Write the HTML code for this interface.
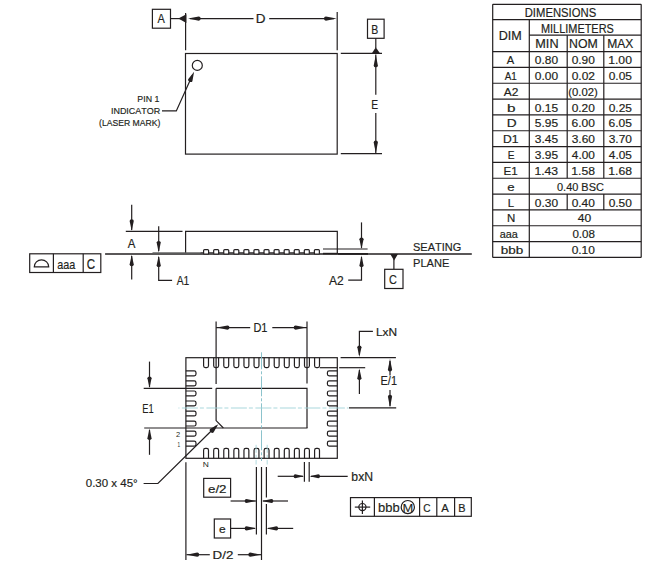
<!DOCTYPE html>
<html><head><meta charset="utf-8"><style>
html,body{margin:0;padding:0;background:#fff;width:652px;height:567px;overflow:hidden}
svg{display:block;font-family:"Liberation Sans",sans-serif;font-kerning:none}
</style></head><body>
<svg width="652" height="567" viewBox="0 0 652 567">
<rect x="185.50" y="53.50" width="151.70" height="100.60" fill="none" stroke="#231f20" stroke-width="1.2"/>
<rect x="152.40" y="9.30" width="18.10" height="18.90" fill="none" stroke="#231f20" stroke-width="1.2"/>
<text x="157.43" y="23.10" font-size="12.24" textLength="7.34" lengthAdjust="spacingAndGlyphs" fill="#231f20" stroke="#231f20" stroke-width="0.18">A</text>
<line x1="170.50" y1="18.60" x2="181.00" y2="18.60" stroke="#231f20" stroke-width="1.2" />
<polygon points="178.30,18.60 186.40,14.30 186.40,22.90" fill="#231f20"/>
<line x1="185.60" y1="12.90" x2="185.60" y2="50.30" stroke="#231f20" stroke-width="1.2" />
<line x1="337.20" y1="12.00" x2="337.20" y2="50.30" stroke="#231f20" stroke-width="1.2" />
<line x1="190.00" y1="18.60" x2="253.50" y2="18.60" stroke="#231f20" stroke-width="1.2" />
<line x1="269.20" y1="18.60" x2="334.00" y2="18.60" stroke="#231f20" stroke-width="1.2" />
<path d="M188.00,18.60 L198.75,16.52 Q200.65,16.52 200.65,18.60 Q200.65,20.68 198.75,20.68 Z" fill="#231f20"/>
<path d="M336.60,18.60 L325.85,20.68 Q323.95,20.68 323.95,18.60 Q323.95,16.52 325.85,16.52 Z" fill="#231f20"/>
<text x="255.74" y="23.00" font-size="12.40" textLength="9.75" lengthAdjust="spacingAndGlyphs" fill="#231f20" stroke="#231f20" stroke-width="0.18">D</text>
<line x1="340.80" y1="53.30" x2="382.00" y2="53.30" stroke="#231f20" stroke-width="1.2" />
<line x1="340.80" y1="153.60" x2="382.00" y2="153.60" stroke="#231f20" stroke-width="1.2" />
<rect x="367.50" y="19.20" width="16.60" height="19.10" fill="none" stroke="#231f20" stroke-width="1.2"/>
<text x="371.19" y="34.00" font-size="12.55" textLength="7.02" lengthAdjust="spacingAndGlyphs" fill="#231f20" stroke="#231f20" stroke-width="0.18">B</text>
<line x1="375.80" y1="38.30" x2="375.80" y2="48.00" stroke="#231f20" stroke-width="1.2" />
<polygon points="375.80,47.30 371.90,53.30 379.90,53.30" fill="#231f20"/>
<line x1="375.80" y1="54.50" x2="375.80" y2="94.80" stroke="#231f20" stroke-width="1.2" />
<line x1="375.80" y1="113.10" x2="375.80" y2="153.50" stroke="#231f20" stroke-width="1.2" />
<path d="M375.80,54.70 L377.88,65.45 Q377.88,67.35 375.80,67.35 Q373.72,67.35 373.72,65.45 Z" fill="#231f20"/>
<path d="M375.80,153.20 L373.72,142.45 Q373.72,140.55 375.80,140.55 Q377.88,140.55 377.88,142.45 Z" fill="#231f20"/>
<text x="371.20" y="109.10" font-size="12.09" textLength="6.89" lengthAdjust="spacingAndGlyphs" fill="#231f20" stroke="#231f20" stroke-width="0.18">E</text>
<circle cx="197.3" cy="65.4" r="5.0" fill="none" stroke="#231f20" stroke-width="1.2"/>
<polyline points="192.50,75.00 176.30,110.90 162.00,110.90" fill="none" stroke="#231f20" stroke-width="1.2"/>
<path d="M194.10,71.80 L192.38,81.22 Q191.70,82.71 189.57,81.74 Q187.44,80.77 188.12,79.28 Z" fill="#231f20"/>
<text x="137.33" y="102.10" font-size="9.70" textLength="22.05" lengthAdjust="spacingAndGlyphs" fill="#231f20" stroke="#231f20" stroke-width="0.18">PIN 1</text>
<text x="110.92" y="114.30" font-size="9.70" textLength="49.34" lengthAdjust="spacingAndGlyphs" fill="#231f20" stroke="#231f20" stroke-width="0.18">INDICATOR</text>
<text x="99.12" y="126.40" font-size="9.70" textLength="61.27" lengthAdjust="spacingAndGlyphs" fill="#231f20" stroke="#231f20" stroke-width="0.18">(LASER MARK)</text>
<line x1="492.70" y1="4.30" x2="641.20" y2="4.30" stroke="#231f20" stroke-width="1.2" />
<line x1="492.70" y1="257.40" x2="641.20" y2="257.40" stroke="#231f20" stroke-width="1.3" />
<line x1="492.70" y1="4.30" x2="492.70" y2="257.40" stroke="#231f20" stroke-width="1.2" />
<line x1="641.20" y1="4.30" x2="641.20" y2="257.40" stroke="#231f20" stroke-width="1.2" />
<line x1="492.70" y1="19.60" x2="641.20" y2="19.60" stroke="#231f20" stroke-width="1.2" />
<line x1="529.30" y1="35.20" x2="641.20" y2="35.20" stroke="#231f20" stroke-width="1.2" />
<line x1="492.70" y1="51.60" x2="641.20" y2="51.60" stroke="#231f20" stroke-width="1.2" />
<line x1="492.70" y1="67.43" x2="641.20" y2="67.43" stroke="#231f20" stroke-width="1.2" />
<line x1="492.70" y1="83.26" x2="641.20" y2="83.26" stroke="#231f20" stroke-width="1.2" />
<line x1="492.70" y1="99.09" x2="641.20" y2="99.09" stroke="#231f20" stroke-width="1.2" />
<line x1="492.70" y1="114.92" x2="641.20" y2="114.92" stroke="#231f20" stroke-width="1.2" />
<line x1="492.70" y1="130.75" x2="641.20" y2="130.75" stroke="#231f20" stroke-width="1.2" />
<line x1="492.70" y1="146.58" x2="641.20" y2="146.58" stroke="#231f20" stroke-width="1.2" />
<line x1="492.70" y1="162.42" x2="641.20" y2="162.42" stroke="#231f20" stroke-width="1.2" />
<line x1="492.70" y1="178.25" x2="641.20" y2="178.25" stroke="#231f20" stroke-width="1.2" />
<line x1="492.70" y1="194.08" x2="641.20" y2="194.08" stroke="#231f20" stroke-width="1.2" />
<line x1="492.70" y1="209.91" x2="641.20" y2="209.91" stroke="#231f20" stroke-width="1.2" />
<line x1="492.70" y1="225.74" x2="641.20" y2="225.74" stroke="#231f20" stroke-width="1.2" />
<line x1="492.70" y1="241.57" x2="641.20" y2="241.57" stroke="#231f20" stroke-width="1.2" />
<line x1="529.30" y1="19.60" x2="529.30" y2="257.40" stroke="#231f20" stroke-width="1.2" />
<line x1="567.20" y1="35.20" x2="567.20" y2="51.60" stroke="#231f20" stroke-width="1.2" />
<line x1="603.80" y1="35.20" x2="603.80" y2="51.60" stroke="#231f20" stroke-width="1.2" />
<line x1="567.20" y1="51.60" x2="567.20" y2="67.43" stroke="#231f20" stroke-width="1.2" />
<line x1="603.80" y1="51.60" x2="603.80" y2="67.43" stroke="#231f20" stroke-width="1.2" />
<line x1="567.20" y1="67.43" x2="567.20" y2="83.26" stroke="#231f20" stroke-width="1.2" />
<line x1="603.80" y1="67.43" x2="603.80" y2="83.26" stroke="#231f20" stroke-width="1.2" />
<line x1="567.20" y1="83.26" x2="567.20" y2="99.09" stroke="#231f20" stroke-width="1.2" />
<line x1="603.80" y1="83.26" x2="603.80" y2="99.09" stroke="#231f20" stroke-width="1.2" />
<line x1="567.20" y1="99.09" x2="567.20" y2="114.92" stroke="#231f20" stroke-width="1.2" />
<line x1="603.80" y1="99.09" x2="603.80" y2="114.92" stroke="#231f20" stroke-width="1.2" />
<line x1="567.20" y1="114.92" x2="567.20" y2="130.75" stroke="#231f20" stroke-width="1.2" />
<line x1="603.80" y1="114.92" x2="603.80" y2="130.75" stroke="#231f20" stroke-width="1.2" />
<line x1="567.20" y1="130.75" x2="567.20" y2="146.58" stroke="#231f20" stroke-width="1.2" />
<line x1="603.80" y1="130.75" x2="603.80" y2="146.58" stroke="#231f20" stroke-width="1.2" />
<line x1="567.20" y1="146.58" x2="567.20" y2="162.42" stroke="#231f20" stroke-width="1.2" />
<line x1="603.80" y1="146.58" x2="603.80" y2="162.42" stroke="#231f20" stroke-width="1.2" />
<line x1="567.20" y1="162.42" x2="567.20" y2="178.25" stroke="#231f20" stroke-width="1.2" />
<line x1="603.80" y1="162.42" x2="603.80" y2="178.25" stroke="#231f20" stroke-width="1.2" />
<line x1="567.20" y1="194.08" x2="567.20" y2="209.91" stroke="#231f20" stroke-width="1.2" />
<line x1="603.80" y1="194.08" x2="603.80" y2="209.91" stroke="#231f20" stroke-width="1.2" />
<text x="524.72" y="16.90" font-size="12.06" textLength="71.44" lengthAdjust="spacingAndGlyphs" fill="#231f20" stroke="#231f20" stroke-width="0.18">DIMENSIONS</text>
<text x="540.95" y="32.50" font-size="12.06" textLength="72.90" lengthAdjust="spacingAndGlyphs" fill="#231f20" stroke="#231f20" stroke-width="0.18">MILLIMETERS</text>
<text x="498.72" y="40.10" font-size="12.06" textLength="23.06" lengthAdjust="spacingAndGlyphs" fill="#231f20" stroke="#231f20" stroke-width="0.18">DIM</text>
<text x="535.31" y="47.90" font-size="12.06" textLength="23.28" lengthAdjust="spacingAndGlyphs" fill="#231f20" stroke="#231f20" stroke-width="0.18">MIN</text>
<text x="569.14" y="47.90" font-size="12.06" textLength="28.72" lengthAdjust="spacingAndGlyphs" fill="#231f20" stroke="#231f20" stroke-width="0.18">NOM</text>
<text x="607.16" y="47.90" font-size="12.06" textLength="26.14" lengthAdjust="spacingAndGlyphs" fill="#231f20" stroke="#231f20" stroke-width="0.18">MAX</text>
<text x="506.73" y="64.03" font-size="10.73" textLength="7.44" lengthAdjust="spacingAndGlyphs" fill="#231f20" stroke="#231f20" stroke-width="0.18">A</text>
<text x="534.88" y="64.03" font-size="10.73" textLength="23.23" lengthAdjust="spacingAndGlyphs" fill="#231f20" stroke="#231f20" stroke-width="0.18">0.80</text>
<text x="571.68" y="64.03" font-size="10.73" textLength="23.23" lengthAdjust="spacingAndGlyphs" fill="#231f20" stroke="#231f20" stroke-width="0.18">0.90</text>
<text x="608.22" y="64.03" font-size="10.73" textLength="23.70" lengthAdjust="spacingAndGlyphs" fill="#231f20" stroke="#231f20" stroke-width="0.18">1.00</text>
<text x="504.63" y="79.86" font-size="10.73" textLength="12.10" lengthAdjust="spacingAndGlyphs" fill="#231f20" stroke="#231f20" stroke-width="0.18">A1</text>
<text x="534.88" y="79.86" font-size="10.73" textLength="23.23" lengthAdjust="spacingAndGlyphs" fill="#231f20" stroke="#231f20" stroke-width="0.18">0.00</text>
<text x="571.68" y="79.86" font-size="10.73" textLength="23.37" lengthAdjust="spacingAndGlyphs" fill="#231f20" stroke="#231f20" stroke-width="0.18">0.02</text>
<text x="608.68" y="79.86" font-size="10.73" textLength="23.27" lengthAdjust="spacingAndGlyphs" fill="#231f20" stroke="#231f20" stroke-width="0.18">0.05</text>
<text x="503.83" y="95.69" font-size="10.73" textLength="14.62" lengthAdjust="spacingAndGlyphs" fill="#231f20" stroke="#231f20" stroke-width="0.18">A2</text>
<text x="568.25" y="95.69" font-size="10.73" textLength="29.50" lengthAdjust="spacingAndGlyphs" fill="#231f20" stroke="#231f20" stroke-width="0.18">(0.02)</text>
<text x="506.96" y="111.52" font-size="10.73" textLength="8.53" lengthAdjust="spacingAndGlyphs" fill="#231f20" stroke="#231f20" stroke-width="0.18">b</text>
<text x="534.88" y="111.52" font-size="10.73" textLength="23.27" lengthAdjust="spacingAndGlyphs" fill="#231f20" stroke="#231f20" stroke-width="0.18">0.15</text>
<text x="571.68" y="111.52" font-size="10.73" textLength="23.23" lengthAdjust="spacingAndGlyphs" fill="#231f20" stroke="#231f20" stroke-width="0.18">0.20</text>
<text x="608.68" y="111.52" font-size="10.73" textLength="23.27" lengthAdjust="spacingAndGlyphs" fill="#231f20" stroke="#231f20" stroke-width="0.18">0.25</text>
<text x="506.83" y="127.35" font-size="10.73" textLength="9.88" lengthAdjust="spacingAndGlyphs" fill="#231f20" stroke="#231f20" stroke-width="0.18">D</text>
<text x="534.87" y="127.35" font-size="10.73" textLength="23.28" lengthAdjust="spacingAndGlyphs" fill="#231f20" stroke="#231f20" stroke-width="0.18">5.95</text>
<text x="571.54" y="127.35" font-size="10.73" textLength="23.38" lengthAdjust="spacingAndGlyphs" fill="#231f20" stroke="#231f20" stroke-width="0.18">6.00</text>
<text x="608.54" y="127.35" font-size="10.73" textLength="23.42" lengthAdjust="spacingAndGlyphs" fill="#231f20" stroke="#231f20" stroke-width="0.18">6.05</text>
<text x="502.96" y="143.18" font-size="10.73" textLength="15.49" lengthAdjust="spacingAndGlyphs" fill="#231f20" stroke="#231f20" stroke-width="0.18">D1</text>
<text x="534.89" y="143.18" font-size="10.73" textLength="23.26" lengthAdjust="spacingAndGlyphs" fill="#231f20" stroke="#231f20" stroke-width="0.18">3.45</text>
<text x="571.70" y="143.18" font-size="10.73" textLength="23.22" lengthAdjust="spacingAndGlyphs" fill="#231f20" stroke="#231f20" stroke-width="0.18">3.60</text>
<text x="608.70" y="143.18" font-size="10.73" textLength="23.22" lengthAdjust="spacingAndGlyphs" fill="#231f20" stroke="#231f20" stroke-width="0.18">3.70</text>
<text x="507.82" y="159.02" font-size="10.73" textLength="6.77" lengthAdjust="spacingAndGlyphs" fill="#231f20" stroke="#231f20" stroke-width="0.18">E</text>
<text x="534.89" y="159.02" font-size="10.73" textLength="23.26" lengthAdjust="spacingAndGlyphs" fill="#231f20" stroke="#231f20" stroke-width="0.18">3.95</text>
<text x="571.88" y="159.02" font-size="10.73" textLength="23.03" lengthAdjust="spacingAndGlyphs" fill="#231f20" stroke="#231f20" stroke-width="0.18">4.00</text>
<text x="608.88" y="159.02" font-size="10.73" textLength="23.07" lengthAdjust="spacingAndGlyphs" fill="#231f20" stroke="#231f20" stroke-width="0.18">4.05</text>
<text x="503.50" y="174.85" font-size="10.73" textLength="14.22" lengthAdjust="spacingAndGlyphs" fill="#231f20" stroke="#231f20" stroke-width="0.18">E1</text>
<text x="534.42" y="174.85" font-size="10.73" textLength="23.77" lengthAdjust="spacingAndGlyphs" fill="#231f20" stroke="#231f20" stroke-width="0.18">1.43</text>
<text x="571.22" y="174.85" font-size="10.73" textLength="23.76" lengthAdjust="spacingAndGlyphs" fill="#231f20" stroke="#231f20" stroke-width="0.18">1.58</text>
<text x="608.22" y="174.85" font-size="10.73" textLength="23.76" lengthAdjust="spacingAndGlyphs" fill="#231f20" stroke="#231f20" stroke-width="0.18">1.68</text>
<text x="507.39" y="190.68" font-size="10.73" textLength="7.35" lengthAdjust="spacingAndGlyphs" fill="#231f20" stroke="#231f20" stroke-width="0.18">e</text>
<text x="557.02" y="190.68" font-size="10.73" textLength="46.84" lengthAdjust="spacingAndGlyphs" fill="#231f20" stroke="#231f20" stroke-width="0.18">0.40 BSC</text>
<text x="507.72" y="206.51" font-size="10.73" textLength="6.31" lengthAdjust="spacingAndGlyphs" fill="#231f20" stroke="#231f20" stroke-width="0.18">L</text>
<text x="534.88" y="206.51" font-size="10.73" textLength="23.23" lengthAdjust="spacingAndGlyphs" fill="#231f20" stroke="#231f20" stroke-width="0.18">0.30</text>
<text x="571.68" y="206.51" font-size="10.73" textLength="23.23" lengthAdjust="spacingAndGlyphs" fill="#231f20" stroke="#231f20" stroke-width="0.18">0.40</text>
<text x="608.68" y="206.51" font-size="10.73" textLength="23.23" lengthAdjust="spacingAndGlyphs" fill="#231f20" stroke="#231f20" stroke-width="0.18">0.50</text>
<text x="507.01" y="222.34" font-size="10.73" textLength="8.27" lengthAdjust="spacingAndGlyphs" fill="#231f20" stroke="#231f20" stroke-width="0.18">N</text>
<text x="577.87" y="222.34" font-size="10.73" textLength="13.45" lengthAdjust="spacingAndGlyphs" fill="#231f20" stroke="#231f20" stroke-width="0.18">40</text>
<text x="499.69" y="238.17" font-size="10.73" textLength="18.16" lengthAdjust="spacingAndGlyphs" fill="#231f20" stroke="#231f20" stroke-width="0.18">aaa</text>
<text x="572.40" y="238.17" font-size="10.73" textLength="22.56" lengthAdjust="spacingAndGlyphs" fill="#231f20" stroke="#231f20" stroke-width="0.18">0.08</text>
<text x="500.68" y="254.00" font-size="10.73" textLength="22.54" lengthAdjust="spacingAndGlyphs" fill="#231f20" stroke="#231f20" stroke-width="0.18">bbb</text>
<text x="571.68" y="254.00" font-size="10.73" textLength="23.23" lengthAdjust="spacingAndGlyphs" fill="#231f20" stroke="#231f20" stroke-width="0.18">0.10</text>
<line x1="131.70" y1="204.80" x2="131.70" y2="230.00" stroke="#231f20" stroke-width="1.2" />
<path d="M131.70,230.80 L129.62,221.03 Q129.62,219.30 131.70,219.30 Q133.78,219.30 133.78,221.03 Z" fill="#231f20"/>
<line x1="125.80" y1="231.40" x2="182.50" y2="231.40" stroke="#231f20" stroke-width="1.2" />
<text x="127.83" y="247.50" font-size="11.94" textLength="7.64" lengthAdjust="spacingAndGlyphs" fill="#231f20" stroke="#231f20" stroke-width="0.18">A</text>
<line x1="131.70" y1="256.00" x2="131.70" y2="279.40" stroke="#231f20" stroke-width="1.2" />
<path d="M131.70,254.80 L133.78,264.57 Q133.78,266.30 131.70,266.30 Q129.62,266.30 129.62,264.57 Z" fill="#231f20"/>
<line x1="105.10" y1="254.00" x2="471.80" y2="254.00" stroke="#231f20" stroke-width="1.4" />
<polyline points="185.60,254.00 185.60,231.40 337.30,231.40 337.30,254.00" fill="none" stroke="#231f20" stroke-width="1.2"/>
<rect x="152.5" y="252.3" width="47.8" height="2.2" fill="#5a5a5a"/>
<rect x="338" y="253.0" width="30" height="1.8" fill="#231f20"/>
<line x1="323.00" y1="249.00" x2="367.60" y2="249.00" stroke="#231f20" stroke-width="1.2" />
<rect x="323" y="252.8" width="14.5" height="1.6" fill="#231f20"/>
<line x1="200.30" y1="252.70" x2="320.00" y2="252.70" stroke="#231f20" stroke-width="0.9" />
<rect x="203.60" y="249.6" width="5.0" height="4.6" rx="1" fill="#fff" stroke="#231f20" stroke-width="1.2"/>
<rect x="213.67" y="249.6" width="5.0" height="4.6" rx="1" fill="#fff" stroke="#231f20" stroke-width="1.2"/>
<rect x="223.74" y="249.6" width="5.0" height="4.6" rx="1" fill="#fff" stroke="#231f20" stroke-width="1.2"/>
<rect x="233.81" y="249.6" width="5.0" height="4.6" rx="1" fill="#fff" stroke="#231f20" stroke-width="1.2"/>
<rect x="243.88" y="249.6" width="5.0" height="4.6" rx="1" fill="#fff" stroke="#231f20" stroke-width="1.2"/>
<rect x="253.95" y="249.6" width="5.0" height="4.6" rx="1" fill="#fff" stroke="#231f20" stroke-width="1.2"/>
<rect x="264.02" y="249.6" width="5.0" height="4.6" rx="1" fill="#fff" stroke="#231f20" stroke-width="1.2"/>
<rect x="274.09" y="249.6" width="5.0" height="4.6" rx="1" fill="#fff" stroke="#231f20" stroke-width="1.2"/>
<rect x="284.16" y="249.6" width="5.0" height="4.6" rx="1" fill="#fff" stroke="#231f20" stroke-width="1.2"/>
<rect x="294.23" y="249.6" width="5.0" height="4.6" rx="1" fill="#fff" stroke="#231f20" stroke-width="1.2"/>
<rect x="304.30" y="249.6" width="5.0" height="4.6" rx="1" fill="#fff" stroke="#231f20" stroke-width="1.2"/>
<rect x="314.37" y="249.6" width="5.0" height="4.6" rx="1" fill="#fff" stroke="#231f20" stroke-width="1.2"/>
<line x1="158.70" y1="226.20" x2="158.70" y2="251.00" stroke="#231f20" stroke-width="1.2" />
<path d="M158.70,252.40 L156.62,242.62 Q156.62,240.90 158.70,240.90 Q160.78,240.90 160.78,242.62 Z" fill="#231f20"/>
<polyline points="158.70,257.00 158.70,280.40 172.10,280.40" fill="none" stroke="#231f20" stroke-width="1.2"/>
<path d="M158.70,255.60 L160.78,265.38 Q160.78,267.10 158.70,267.10 Q156.62,267.10 156.62,265.38 Z" fill="#231f20"/>
<text x="176.73" y="284.70" font-size="12.24" textLength="12.62" lengthAdjust="spacingAndGlyphs" fill="#231f20" stroke="#231f20" stroke-width="0.18">A1</text>
<line x1="361.50" y1="222.40" x2="361.50" y2="248.00" stroke="#231f20" stroke-width="1.2" />
<path d="M361.50,249.00 L359.42,239.22 Q359.42,237.50 361.50,237.50 Q363.58,237.50 363.58,239.22 Z" fill="#231f20"/>
<polyline points="361.50,257.00 361.50,280.20 348.20,280.20" fill="none" stroke="#231f20" stroke-width="1.2"/>
<path d="M361.50,255.60 L363.58,265.38 Q363.58,267.10 361.50,267.10 Q359.42,267.10 359.42,265.38 Z" fill="#231f20"/>
<text x="329.03" y="284.70" font-size="11.94" textLength="14.73" lengthAdjust="spacingAndGlyphs" fill="#231f20" stroke="#231f20" stroke-width="0.18">A2</text>
<polygon points="390.20,254.00 398.00,254.00 394.10,260.40" fill="#231f20"/>
<line x1="393.90" y1="259.00" x2="393.90" y2="269.30" stroke="#231f20" stroke-width="1.2" />
<rect x="384.70" y="269.30" width="18.30" height="19.20" fill="none" stroke="#231f20" stroke-width="1.2"/>
<text x="389.10" y="284.20" font-size="13.00" textLength="7.87" lengthAdjust="spacingAndGlyphs" fill="#231f20" stroke="#231f20" stroke-width="0.18">C</text>
<text x="413.05" y="251.20" font-size="11.64" textLength="48.22" lengthAdjust="spacingAndGlyphs" fill="#231f20" stroke="#231f20" stroke-width="0.18">SEATING</text>
<text x="413.04" y="267.00" font-size="11.79" textLength="36.28" lengthAdjust="spacingAndGlyphs" fill="#231f20" stroke="#231f20" stroke-width="0.18">PLANE</text>
<rect x="29.70" y="253.80" width="71.10" height="18.70" fill="none" stroke="#231f20" stroke-width="1.2"/>
<line x1="53.40" y1="253.80" x2="53.40" y2="272.50" stroke="#231f20" stroke-width="1.2" />
<line x1="83.20" y1="253.80" x2="83.20" y2="272.50" stroke="#231f20" stroke-width="1.2" />
<path d="M34.3,266.8 A7.2,6.9 0 0 1 48.7,266.8 Z" fill="none" stroke="#231f20" stroke-width="1.2"/>
<text x="57.29" y="268.50" font-size="13.63" textLength="18.06" lengthAdjust="spacingAndGlyphs" fill="#231f20" stroke="#231f20" stroke-width="0.18">aaa</text>
<text x="86.76" y="268.50" font-size="13.91" textLength="8.32" lengthAdjust="spacingAndGlyphs" fill="#231f20" stroke="#231f20" stroke-width="0.18">C</text>
<rect x="185.90" y="357.70" width="151.40" height="100.60" fill="none" stroke="#231f20" stroke-width="1.2"/>
<path d="M203.60,357.7 V365.80 Q203.60,367.60 205.40,367.60 H206.70 Q208.50,367.60 208.50,365.80 V357.7" fill="none" stroke="#231f20" stroke-width="1.2"/>
<path d="M203.60,458.3 V450.20 Q203.60,448.40 205.40,448.40 H206.70 Q208.50,448.40 208.50,450.20 V458.3" fill="none" stroke="#231f20" stroke-width="1.2"/>
<path d="M213.69,357.7 V365.80 Q213.69,367.60 215.49,367.60 H216.79 Q218.59,367.60 218.59,365.80 V357.7" fill="none" stroke="#231f20" stroke-width="1.2"/>
<path d="M213.69,458.3 V450.20 Q213.69,448.40 215.49,448.40 H216.79 Q218.59,448.40 218.59,450.20 V458.3" fill="none" stroke="#231f20" stroke-width="1.2"/>
<path d="M223.78,357.7 V365.80 Q223.78,367.60 225.58,367.60 H226.88 Q228.68,367.60 228.68,365.80 V357.7" fill="none" stroke="#231f20" stroke-width="1.2"/>
<path d="M223.78,458.3 V450.20 Q223.78,448.40 225.58,448.40 H226.88 Q228.68,448.40 228.68,450.20 V458.3" fill="none" stroke="#231f20" stroke-width="1.2"/>
<path d="M233.87,357.7 V365.80 Q233.87,367.60 235.67,367.60 H236.97 Q238.77,367.60 238.77,365.80 V357.7" fill="none" stroke="#231f20" stroke-width="1.2"/>
<path d="M233.87,458.3 V450.20 Q233.87,448.40 235.67,448.40 H236.97 Q238.77,448.40 238.77,450.20 V458.3" fill="none" stroke="#231f20" stroke-width="1.2"/>
<path d="M243.96,357.7 V365.80 Q243.96,367.60 245.76,367.60 H247.06 Q248.86,367.60 248.86,365.80 V357.7" fill="none" stroke="#231f20" stroke-width="1.2"/>
<path d="M243.96,458.3 V450.20 Q243.96,448.40 245.76,448.40 H247.06 Q248.86,448.40 248.86,450.20 V458.3" fill="none" stroke="#231f20" stroke-width="1.2"/>
<path d="M254.05,357.7 V365.80 Q254.05,367.60 255.85,367.60 H257.15 Q258.95,367.60 258.95,365.80 V357.7" fill="none" stroke="#231f20" stroke-width="1.2"/>
<path d="M254.05,458.3 V450.20 Q254.05,448.40 255.85,448.40 H257.15 Q258.95,448.40 258.95,450.20 V458.3" fill="none" stroke="#231f20" stroke-width="1.2"/>
<path d="M264.14,357.7 V365.80 Q264.14,367.60 265.94,367.60 H267.24 Q269.04,367.60 269.04,365.80 V357.7" fill="none" stroke="#231f20" stroke-width="1.2"/>
<path d="M264.14,458.3 V450.20 Q264.14,448.40 265.94,448.40 H267.24 Q269.04,448.40 269.04,450.20 V458.3" fill="none" stroke="#231f20" stroke-width="1.2"/>
<path d="M274.23,357.7 V365.80 Q274.23,367.60 276.03,367.60 H277.33 Q279.13,367.60 279.13,365.80 V357.7" fill="none" stroke="#231f20" stroke-width="1.2"/>
<path d="M274.23,458.3 V450.20 Q274.23,448.40 276.03,448.40 H277.33 Q279.13,448.40 279.13,450.20 V458.3" fill="none" stroke="#231f20" stroke-width="1.2"/>
<path d="M284.32,357.7 V365.80 Q284.32,367.60 286.12,367.60 H287.42 Q289.22,367.60 289.22,365.80 V357.7" fill="none" stroke="#231f20" stroke-width="1.2"/>
<path d="M284.32,458.3 V450.20 Q284.32,448.40 286.12,448.40 H287.42 Q289.22,448.40 289.22,450.20 V458.3" fill="none" stroke="#231f20" stroke-width="1.2"/>
<path d="M294.41,357.7 V365.80 Q294.41,367.60 296.21,367.60 H297.51 Q299.31,367.60 299.31,365.80 V357.7" fill="none" stroke="#231f20" stroke-width="1.2"/>
<path d="M294.41,458.3 V450.20 Q294.41,448.40 296.21,448.40 H297.51 Q299.31,448.40 299.31,450.20 V458.3" fill="none" stroke="#231f20" stroke-width="1.2"/>
<path d="M304.50,357.7 V365.80 Q304.50,367.60 306.30,367.60 H307.60 Q309.40,367.60 309.40,365.80 V357.7" fill="none" stroke="#231f20" stroke-width="1.2"/>
<path d="M304.50,458.3 V450.20 Q304.50,448.40 306.30,448.40 H307.60 Q309.40,448.40 309.40,450.20 V458.3" fill="none" stroke="#231f20" stroke-width="1.2"/>
<path d="M314.59,357.7 V365.80 Q314.59,367.60 316.39,367.60 H317.69 Q319.49,367.60 319.49,365.80 V357.7" fill="none" stroke="#231f20" stroke-width="1.2"/>
<path d="M314.59,458.3 V450.20 Q314.59,448.40 316.39,448.40 H317.69 Q319.49,448.40 319.49,450.20 V458.3" fill="none" stroke="#231f20" stroke-width="1.2"/>
<path d="M185.9,370.90 H194.20 Q196.00,370.90 196.00,372.70 V374.00 Q196.00,375.80 194.20,375.80 H185.9" fill="none" stroke="#231f20" stroke-width="1.2"/>
<path d="M337.3,370.90 H329.20 Q327.40,370.90 327.40,372.70 V374.00 Q327.40,375.80 329.20,375.80 H337.3" fill="none" stroke="#231f20" stroke-width="1.2"/>
<path d="M185.9,380.94 H194.20 Q196.00,380.94 196.00,382.74 V384.04 Q196.00,385.84 194.20,385.84 H185.9" fill="none" stroke="#231f20" stroke-width="1.2"/>
<path d="M337.3,380.94 H329.20 Q327.40,380.94 327.40,382.74 V384.04 Q327.40,385.84 329.20,385.84 H337.3" fill="none" stroke="#231f20" stroke-width="1.2"/>
<path d="M185.9,390.98 H194.20 Q196.00,390.98 196.00,392.78 V394.08 Q196.00,395.88 194.20,395.88 H185.9" fill="none" stroke="#231f20" stroke-width="1.2"/>
<path d="M337.3,390.98 H329.20 Q327.40,390.98 327.40,392.78 V394.08 Q327.40,395.88 329.20,395.88 H337.3" fill="none" stroke="#231f20" stroke-width="1.2"/>
<path d="M185.9,401.02 H194.20 Q196.00,401.02 196.00,402.82 V404.12 Q196.00,405.92 194.20,405.92 H185.9" fill="none" stroke="#231f20" stroke-width="1.2"/>
<path d="M337.3,401.02 H329.20 Q327.40,401.02 327.40,402.82 V404.12 Q327.40,405.92 329.20,405.92 H337.3" fill="none" stroke="#231f20" stroke-width="1.2"/>
<path d="M185.9,411.06 H194.20 Q196.00,411.06 196.00,412.86 V414.16 Q196.00,415.96 194.20,415.96 H185.9" fill="none" stroke="#231f20" stroke-width="1.2"/>
<path d="M337.3,411.06 H329.20 Q327.40,411.06 327.40,412.86 V414.16 Q327.40,415.96 329.20,415.96 H337.3" fill="none" stroke="#231f20" stroke-width="1.2"/>
<path d="M185.9,421.10 H194.20 Q196.00,421.10 196.00,422.90 V424.20 Q196.00,426.00 194.20,426.00 H185.9" fill="none" stroke="#231f20" stroke-width="1.2"/>
<path d="M337.3,421.10 H329.20 Q327.40,421.10 327.40,422.90 V424.20 Q327.40,426.00 329.20,426.00 H337.3" fill="none" stroke="#231f20" stroke-width="1.2"/>
<path d="M185.9,431.14 H194.20 Q196.00,431.14 196.00,432.94 V434.24 Q196.00,436.04 194.20,436.04 H185.9" fill="none" stroke="#231f20" stroke-width="1.2"/>
<path d="M337.3,431.14 H329.20 Q327.40,431.14 327.40,432.94 V434.24 Q327.40,436.04 329.20,436.04 H337.3" fill="none" stroke="#231f20" stroke-width="1.2"/>
<path d="M185.9,441.18 H194.20 Q196.00,441.18 196.00,442.98 V444.28 Q196.00,446.08 194.20,446.08 H185.9" fill="none" stroke="#231f20" stroke-width="1.2"/>
<path d="M337.3,441.18 H329.20 Q327.40,441.18 327.40,442.98 V444.28 Q327.40,446.08 329.20,446.08 H337.3" fill="none" stroke="#231f20" stroke-width="1.2"/>
<polyline points="216.10,388.30 307.00,388.30 307.00,428.00" fill="none" stroke="#231f20" stroke-width="1.2"/>
<polyline points="216.10,388.30 216.10,420.60 223.40,428.00" fill="none" stroke="#231f20" stroke-width="1.2"/>
<line x1="144.20" y1="428.00" x2="307.50" y2="428.00" stroke="#231f20" stroke-width="1.2" />
<line x1="143.70" y1="388.30" x2="212.20" y2="388.30" stroke="#231f20" stroke-width="1.2" />
<line x1="216.10" y1="321.40" x2="216.10" y2="384.10" stroke="#231f20" stroke-width="1.2" />
<line x1="307.00" y1="321.40" x2="307.00" y2="383.60" stroke="#231f20" stroke-width="1.2" />
<line x1="216.10" y1="327.60" x2="250.20" y2="327.60" stroke="#231f20" stroke-width="1.2" />
<line x1="272.30" y1="327.60" x2="307.00" y2="327.60" stroke="#231f20" stroke-width="1.2" />
<path d="M216.80,327.60 L227.55,325.52 Q229.45,325.52 229.45,327.60 Q229.45,329.68 227.55,329.68 Z" fill="#231f20"/>
<path d="M306.30,327.60 L295.55,329.68 Q293.65,329.68 293.65,327.60 Q293.65,325.52 295.55,325.52 Z" fill="#231f20"/>
<text x="253.45" y="332.20" font-size="12.70" textLength="14.04" lengthAdjust="spacingAndGlyphs" fill="#231f20" stroke="#231f20" stroke-width="0.18">D1</text>
<line x1="149.50" y1="361.60" x2="149.50" y2="387.00" stroke="#231f20" stroke-width="1.2" />
<path d="M149.50,388.10 L147.42,378.33 Q147.42,376.60 149.50,376.60 Q151.58,376.60 151.58,378.33 Z" fill="#231f20"/>
<line x1="149.50" y1="430.00" x2="149.50" y2="454.80" stroke="#231f20" stroke-width="1.2" />
<path d="M149.50,428.50 L151.58,438.27 Q151.58,440.00 149.50,440.00 Q147.42,440.00 147.42,438.27 Z" fill="#231f20"/>
<text x="142.18" y="413.40" font-size="12.70" textLength="11.42" lengthAdjust="spacingAndGlyphs" fill="#231f20" stroke="#231f20" stroke-width="0.18">E1</text>
<text x="175.97" y="437.40" font-size="7.10" textLength="4.15" lengthAdjust="spacingAndGlyphs" fill="#231f20" stroke="#231f20" stroke-width="0">2</text>
<text x="177.60" y="447.30" font-size="7.56" textLength="2.58" lengthAdjust="spacingAndGlyphs" fill="#231f20" stroke="#231f20" stroke-width="0">1</text>
<text x="202.86" y="467.40" font-size="7.10" textLength="6.08" lengthAdjust="spacingAndGlyphs" fill="#231f20" stroke="#231f20" stroke-width="0">N</text>
<line x1="340.60" y1="357.70" x2="395.90" y2="357.70" stroke="#231f20" stroke-width="1.2" />
<line x1="339.20" y1="367.70" x2="365.20" y2="367.70" stroke="#231f20" stroke-width="1.2" />
<polyline points="372.90,331.30 359.40,331.30 359.40,355.00" fill="none" stroke="#231f20" stroke-width="1.2"/>
<path d="M359.40,357.00 L357.32,347.23 Q357.32,345.50 359.40,345.50 Q361.48,345.50 361.48,347.23 Z" fill="#231f20"/>
<line x1="359.40" y1="370.00" x2="359.40" y2="394.10" stroke="#231f20" stroke-width="1.2" />
<path d="M359.40,368.50 L361.48,378.27 Q361.48,380.00 359.40,380.00 Q357.32,380.00 357.32,378.27 Z" fill="#231f20"/>
<text x="375.97" y="336.10" font-size="11.34" textLength="21.14" lengthAdjust="spacingAndGlyphs" fill="#231f20" stroke="#231f20" stroke-width="0.18">LxN</text>
<line x1="390.00" y1="361.00" x2="390.00" y2="375.50" stroke="#231f20" stroke-width="1.2" />
<path d="M390.00,358.80 L392.08,369.55 Q392.08,371.45 390.00,371.45 Q387.92,371.45 387.92,369.55 Z" fill="#231f20"/>
<line x1="390.00" y1="389.90" x2="390.00" y2="406.00" stroke="#231f20" stroke-width="1.2" />
<path d="M390.00,407.40 L387.92,396.65 Q387.92,394.75 390.00,394.75 Q392.08,394.75 392.08,396.65 Z" fill="#231f20"/>
<line x1="349.00" y1="407.80" x2="396.20" y2="407.80" stroke="#231f20" stroke-width="1.2" />
<text x="380.55" y="385.30" font-size="12.09" textLength="16.43" lengthAdjust="spacingAndGlyphs" fill="#231f20" stroke="#231f20" stroke-width="0.18">E/1</text>
<polyline points="143.60,483.50 157.90,483.50 216.50,425.80" fill="none" stroke="#231f20" stroke-width="1.2"/>
<path d="M218.30,424.20 L213.48,432.51 Q212.32,433.67 210.57,431.93 Q208.83,430.18 209.99,429.02 Z" fill="#231f20"/>
<text x="85.80" y="486.90" font-size="11.34" textLength="51.84" lengthAdjust="spacingAndGlyphs" fill="#231f20" stroke="#231f20" stroke-width="0.18">0.30 x 45°</text>
<line x1="185.90" y1="462.30" x2="185.90" y2="560.00" stroke="#231f20" stroke-width="1.2" />
<line x1="256.40" y1="467.00" x2="256.40" y2="534.50" stroke="#231f20" stroke-width="1.2" />
<line x1="261.50" y1="467.00" x2="261.50" y2="560.00" stroke="#231f20" stroke-width="1.2" />
<line x1="266.40" y1="467.00" x2="266.40" y2="497.50" stroke="#231f20" stroke-width="1.2" />
<line x1="266.40" y1="504.00" x2="266.40" y2="534.50" stroke="#231f20" stroke-width="1.2" />
<rect x="203.70" y="478.40" width="26.90" height="18.80" fill="none" stroke="#231f20" stroke-width="1.2"/>
<text x="207.98" y="492.50" font-size="10.71" textLength="18.54" lengthAdjust="spacingAndGlyphs" fill="#231f20" stroke="#231f20" stroke-width="0.18">e/2</text>
<line x1="230.60" y1="501.00" x2="256.00" y2="501.00" stroke="#231f20" stroke-width="1.2" />
<path d="M256.20,501.00 L246.42,503.08 Q244.70,503.08 244.70,501.00 Q244.70,498.92 246.42,498.92 Z" fill="#231f20"/>
<line x1="288.00" y1="501.00" x2="263.00" y2="501.00" stroke="#231f20" stroke-width="1.2" />
<path d="M261.80,501.00 L271.57,498.92 Q273.30,498.92 273.30,501.00 Q273.30,503.08 271.57,503.08 Z" fill="#231f20"/>
<rect x="214.30" y="519.00" width="16.30" height="19.00" fill="none" stroke="#231f20" stroke-width="1.2"/>
<text x="218.94" y="533.20" font-size="10.71" textLength="6.64" lengthAdjust="spacingAndGlyphs" fill="#231f20" stroke="#231f20" stroke-width="0.18">e</text>
<line x1="230.60" y1="528.40" x2="255.00" y2="528.40" stroke="#231f20" stroke-width="1.2" />
<path d="M256.20,528.40 L246.42,530.48 Q244.70,530.48 244.70,528.40 Q244.70,526.32 246.42,526.32 Z" fill="#231f20"/>
<line x1="293.20" y1="528.40" x2="268.00" y2="528.40" stroke="#231f20" stroke-width="1.2" />
<path d="M266.60,528.40 L276.38,526.32 Q278.10,526.32 278.10,528.40 Q278.10,530.48 276.38,530.48 Z" fill="#231f20"/>
<line x1="186.50" y1="554.70" x2="209.80" y2="554.70" stroke="#231f20" stroke-width="1.2" />
<line x1="237.80" y1="554.70" x2="261.00" y2="554.70" stroke="#231f20" stroke-width="1.2" />
<path d="M186.50,554.70 L197.25,552.62 Q199.15,552.62 199.15,554.70 Q199.15,556.78 197.25,556.78 Z" fill="#231f20"/>
<path d="M261.00,554.70 L250.25,556.78 Q248.35,556.78 248.35,554.70 Q248.35,552.62 250.25,552.62 Z" fill="#231f20"/>
<text x="212.56" y="559.40" font-size="11.34" textLength="20.77" lengthAdjust="spacingAndGlyphs" fill="#231f20" stroke="#231f20" stroke-width="0.18">D/2</text>
<line x1="304.40" y1="462.00" x2="304.40" y2="481.70" stroke="#231f20" stroke-width="1.2" />
<line x1="309.20" y1="462.00" x2="309.20" y2="481.70" stroke="#231f20" stroke-width="1.2" />
<line x1="277.70" y1="476.30" x2="303.00" y2="476.30" stroke="#231f20" stroke-width="1.2" />
<path d="M304.00,476.30 L295.20,478.25 Q293.65,478.25 293.65,476.30 Q293.65,474.35 295.20,474.35 Z" fill="#231f20"/>
<line x1="347.70" y1="476.30" x2="311.00" y2="476.30" stroke="#231f20" stroke-width="1.2" />
<path d="M309.60,476.30 L318.40,474.35 Q319.95,474.35 319.95,476.30 Q319.95,478.25 318.40,478.25 Z" fill="#231f20"/>
<text x="351.36" y="480.90" font-size="12.09" textLength="21.68" lengthAdjust="spacingAndGlyphs" fill="#231f20" stroke="#231f20" stroke-width="0.18">bxN</text>
<rect x="350.50" y="497.60" width="120.80" height="18.70" fill="none" stroke="#231f20" stroke-width="1.2"/>
<line x1="374.40" y1="497.60" x2="374.40" y2="516.30" stroke="#231f20" stroke-width="1.2" />
<line x1="419.60" y1="497.60" x2="419.60" y2="516.30" stroke="#231f20" stroke-width="1.2" />
<line x1="436.80" y1="497.60" x2="436.80" y2="516.30" stroke="#231f20" stroke-width="1.2" />
<line x1="454.60" y1="497.60" x2="454.60" y2="516.30" stroke="#231f20" stroke-width="1.2" />
<circle cx="362.4" cy="507.1" r="3.6" fill="none" stroke="#231f20" stroke-width="1.2"/>
<line x1="354.80" y1="507.10" x2="370.20" y2="507.10" stroke="#231f20" stroke-width="1.2" />
<line x1="362.40" y1="500.40" x2="362.40" y2="513.90" stroke="#231f20" stroke-width="1.2" />
<text x="378.02" y="512.30" font-size="12.70" textLength="21.58" lengthAdjust="spacingAndGlyphs" fill="#231f20" stroke="#231f20" stroke-width="0.18">bbb</text>
<circle cx="407.8" cy="507.1" r="6.6" fill="none" stroke="#231f20" stroke-width="1.2"/>
<text x="402.48" y="511.50" font-size="11.02" textLength="10.83" lengthAdjust="spacingAndGlyphs" fill="#231f20" stroke="#231f20" stroke-width="0.1">M</text>
<text x="423.14" y="511.70" font-size="10.43" textLength="7.30" lengthAdjust="spacingAndGlyphs" fill="#231f20" stroke="#231f20" stroke-width="0.18">C</text>
<text x="441.33" y="511.70" font-size="10.43" textLength="7.54" lengthAdjust="spacingAndGlyphs" fill="#231f20" stroke="#231f20" stroke-width="0.18">A</text>
<text x="458.26" y="511.70" font-size="10.43" textLength="7.27" lengthAdjust="spacingAndGlyphs" fill="#231f20" stroke="#231f20" stroke-width="0.18">B</text>
<line x1="261.50" y1="352.30" x2="261.50" y2="461.00" stroke="#7fbcc6" stroke-width="0.9" stroke-dasharray="20 2 3 2" stroke-dashoffset="3"/>
<line x1="178.50" y1="408.00" x2="348.50" y2="408.00" stroke="#9fd2d8" stroke-width="0.9" stroke-dasharray="16 2 4 2.5" stroke-dashoffset="21.1"/>
<line x1="256.10" y1="444.80" x2="256.10" y2="464.50" stroke="#9fd2d8" stroke-width="0.8" stroke-dasharray="8 2 3 2"/>
<line x1="267.20" y1="444.80" x2="267.20" y2="464.50" stroke="#9fd2d8" stroke-width="0.8" stroke-dasharray="8 2 3 2"/>
<line x1="319.80" y1="367.70" x2="337.30" y2="367.70" stroke="#231f20" stroke-width="1.2" />
</svg></body></html>
